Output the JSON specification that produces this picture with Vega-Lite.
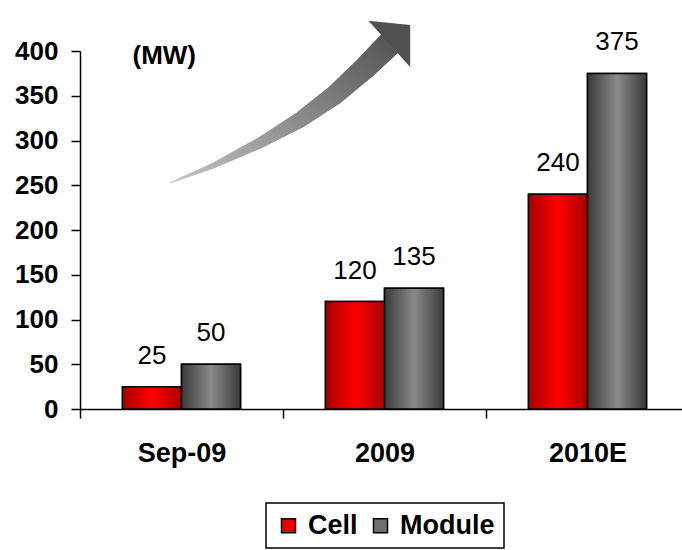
{
  "$schema": "https://vega.github.io/schema/vega-lite/v6.json",
  "autosize": {"type": "none"},
  "padding": {"left": 80, "top": 51, "right": 0, "bottom": 141},
  "width": 602,
  "height": 358,
  "background": "white",
  "datasets": {
    "bars": [
      {"period": "Sep-09", "series": "Cell", "mw": 25},
      {"period": "Sep-09", "series": "Module", "mw": 50},
      {"period": "2009", "series": "Cell", "mw": 120},
      {"period": "2009", "series": "Module", "mw": 135},
      {"period": "2010E", "series": "Cell", "mw": 240},
      {"period": "2010E", "series": "Module", "mw": 375}
    ],
    "arrow": [
      {"ord": 1, "ax": 0.445, "ay": 252.8, "w": 1},
      {"ord": 2, "ax": 0.667, "ay": 273, "w": 6},
      {"ord": 3, "ax": 0.888, "ay": 297.5, "w": 11},
      {"ord": 4, "ax": 1.085, "ay": 323.2, "w": 16},
      {"ord": 5, "ax": 1.257, "ay": 351.2, "w": 20},
      {"ord": 6, "ax": 1.405, "ay": 381.3, "w": 23},
      {"ord": 7, "ax": 1.524, "ay": 408, "w": 25}
    ],
    "arrowhead": [
      {"ax": 1.575, "ay": 418.5}
    ]
  },
  "layer": [
    {
      "layer": [
        {
          "data": {"name": "bars"},
          "mark": {"type": "bar", "stroke": "black", "strokeWidth": 1.5},
          "encoding": {
            "x": {"field": "period", "type": "nominal", "sort": ["Sep-09", "2009", "2010E"],
                  "scale": {"range": [0, 609], "paddingInner": 0, "paddingOuter": 0},
                  "axis": {"title": null}},
            "xOffset": {"field": "series", "type": "nominal", "sort": ["Cell", "Module"],
                        "scale": {"paddingInner": 0, "paddingOuter": 0.72}},
            "y": {"field": "mw", "type": "quantitative", "title": "(MW)",
                  "scale": {"domain": [0, 400], "nice": false, "zero": true}},
            "color": {"field": "series", "type": "nominal", "sort": ["Cell", "Module"],
                      "scale": {"domain": ["Cell", "Module"], "range": ["#e80000", "#707070"]},
                      "legend": {"title": null}}
          }
        },
        {
          "data": {"name": "bars"},
          "mark": {"type": "bar", "stroke": "black", "strokeWidth": 1.5},
          "encoding": {
            "x": {"field": "period", "type": "nominal", "sort": ["Sep-09", "2009", "2010E"]},
            "xOffset": {"field": "series", "type": "nominal", "sort": ["Cell", "Module"]},
            "y": {"field": "mw", "type": "quantitative", "title": "(MW)"},
            "fill": {
              "condition": {"test": "datum.series === 'Cell'",
                "value": {"gradient": "linear", "x1": 0, "y1": 0, "x2": 1, "y2": 0,
                          "stops": [{"offset": 0, "color": "#a80000"}, {"offset": 0.5, "color": "#ff0000"}, {"offset": 1, "color": "#a80000"}]}},
              "value": {"gradient": "linear", "x1": 0, "y1": 0, "x2": 1, "y2": 0,
                        "stops": [{"offset": 0, "color": "#3a3a3a"}, {"offset": 0.5, "color": "#8a8a8a"}, {"offset": 1, "color": "#3a3a3a"}]}
            }
          }
        },
        {
          "data": {"name": "bars"},
          "mark": {"type": "text", "baseline": "alphabetic", "align": "center", "dy": -23,
                   "font": "Liberation Sans", "fontSize": 26, "color": "black"},
          "encoding": {
            "x": {"field": "period", "type": "nominal", "sort": ["Sep-09", "2009", "2010E"]},
            "xOffset": {"field": "series", "type": "nominal", "sort": ["Cell", "Module"]},
            "y": {"field": "mw", "type": "quantitative", "title": "(MW)"},
            "text": {"field": "mw", "type": "quantitative"}
          }
        }
      ]
    },
    {
      "layer": [
        {
          "data": {"name": "arrow"},
          "mark": {"type": "trail", "clip": false,
                   "color": {"gradient": "linear", "x1": 0, "y1": 1, "x2": 1, "y2": 0,
                             "stops": [{"offset": 0, "color": "#c4c4c4"}, {"offset": 1, "color": "#505050"}]}},
          "encoding": {
            "x": {"field": "ax", "type": "quantitative", "axis": null,
                  "scale": {"domain": [0, 3], "range": [0, 609], "nice": false, "zero": false}},
            "y": {"field": "ay", "type": "quantitative", "title": "(MW)"},
            "size": {"field": "w", "type": "quantitative", "scale": null},
            "order": {"field": "ord", "type": "quantitative"}
          }
        },
        {
          "data": {"name": "arrowhead"},
          "mark": {"type": "point", "filled": true, "clip": false, "color": "#505050", "opacity": 1,
                   "shape": "M -1 0.45 L 0 -0.45 L 1 0.45 Z", "size": 3900, "angle": 48},
          "encoding": {
            "x": {"field": "ax", "type": "quantitative", "axis": null},
            "y": {"field": "ay", "type": "quantitative", "title": "(MW)"}
          }
        }
      ]
    }
  ],
  "resolve": {"scale": {"x": "independent"}},
  "config": {
    "view": {"stroke": null},
    "font": "Liberation Sans",
    "axis": {"grid": false, "domainColor": "black", "domainWidth": 1.5, "tickColor": "black",
             "tickWidth": 1.5, "tickSize": 9, "labelColor": "black", "labelFont": "Liberation Sans",
             "labelFontWeight": "bold"},
    "axisY": {"values": [0, 50, 100, 150, 200, 250, 300, 350, 400], "labelFontSize": 26,
              "labelPadding": 13, "titleAngle": 0, "titleAlign": "left", "titleBaseline": "alphabetic",
              "titleX": 52, "titleY": 12, "titleFontSize": 26, "titleFontWeight": "bold",
              "titleFont": "Liberation Sans", "titleColor": "black"},
    "axisX": {"labelAngle": 0, "labelFontSize": 27, "labelPadding": 22, "tickBand": "extent",
              "labelBaseline": "top"},
    "legend": {"orient": "none", "legendX": 186, "legendY": 452, "direction": "horizontal",
               "strokeColor": "black", "strokeWidth": 1.5, "padding": 9, "fillColor": "white",
               "symbolType": "square", "symbolSize": 196, "symbolStrokeColor": "black",
               "symbolStrokeWidth": 1.5, "labelFontSize": 27, "labelFontWeight": "bold",
               "labelFont": "Liberation Sans", "labelColor": "black", "labelOffset": 6,
               "columnPadding": 9, "labelLimit": 300}
  }
}
